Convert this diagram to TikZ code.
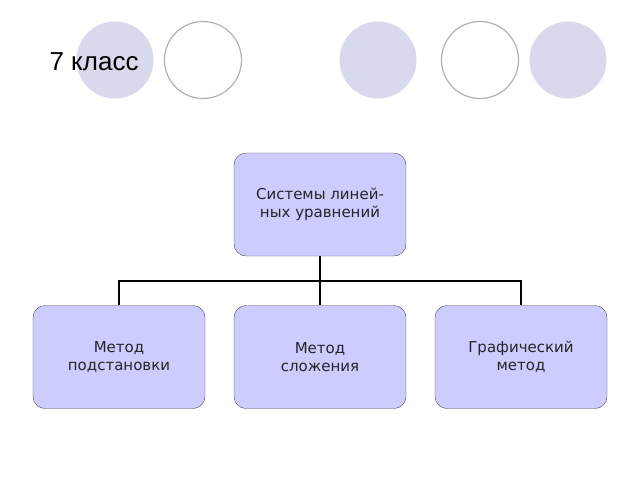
\documentclass[tikz,border=0pt]{standalone}
\usepackage{fontspec}
\setmainfont{DejaVu Sans}
\newfontfamily\titlefont{Liberation Sans}
\usetikzlibrary{positioning}
\definecolor{disc}{rgb}{.85,.85,.93}
\definecolor{boxfill}{rgb}{.80,.80,1}
\tikzset{
  ring/.style={circle, minimum size=77pt, inner sep=0pt, draw=black!30, line width=1.2pt},
  block/.style={draw=black!70, fill=boxfill, rounded corners=12pt, minimum width=172pt,
    minimum height=103pt, align=center, font=\fontsize{15}{18}\selectfont, text=black!85},
  link/.style={line width=1.4pt}
}
\begin{document}
\begin{tikzpicture}[x=1pt,y=-1pt]
\useasboundingbox (0,0) rectangle (640,480);
\fill[white] (0,0) rectangle (640,480);
% circles
\foreach \x in {115,378,568}
  \node [ring, fill=disc, draw=none] (d\x) at (\x,60) {};
\foreach \x in {203,480}
  \node [ring, fill=white] (w\x) at (\x,60) {};
\node [anchor=west, font=\titlefont\fontsize{26}{30}\selectfont] (title) at (46,62) {7 класс};
% tree
\node [block] (sys) at (320,204.5) {Системы линей-\\ ных уравнений};
\node [block] (subst) at (119,357) {Метод\\ подстановки};
\node [block] (add) at (320,357) {Метод\\ сложения};
\node [block] (graph) at (521,357) {Графический\\ метод};
\coordinate (fork) at (320,281);
\draw [link] (sys.south) -- (fork);
\foreach \n in {subst,add,graph}
  \draw [link] (fork) -| (\n.north);
\end{tikzpicture}
\end{document}
